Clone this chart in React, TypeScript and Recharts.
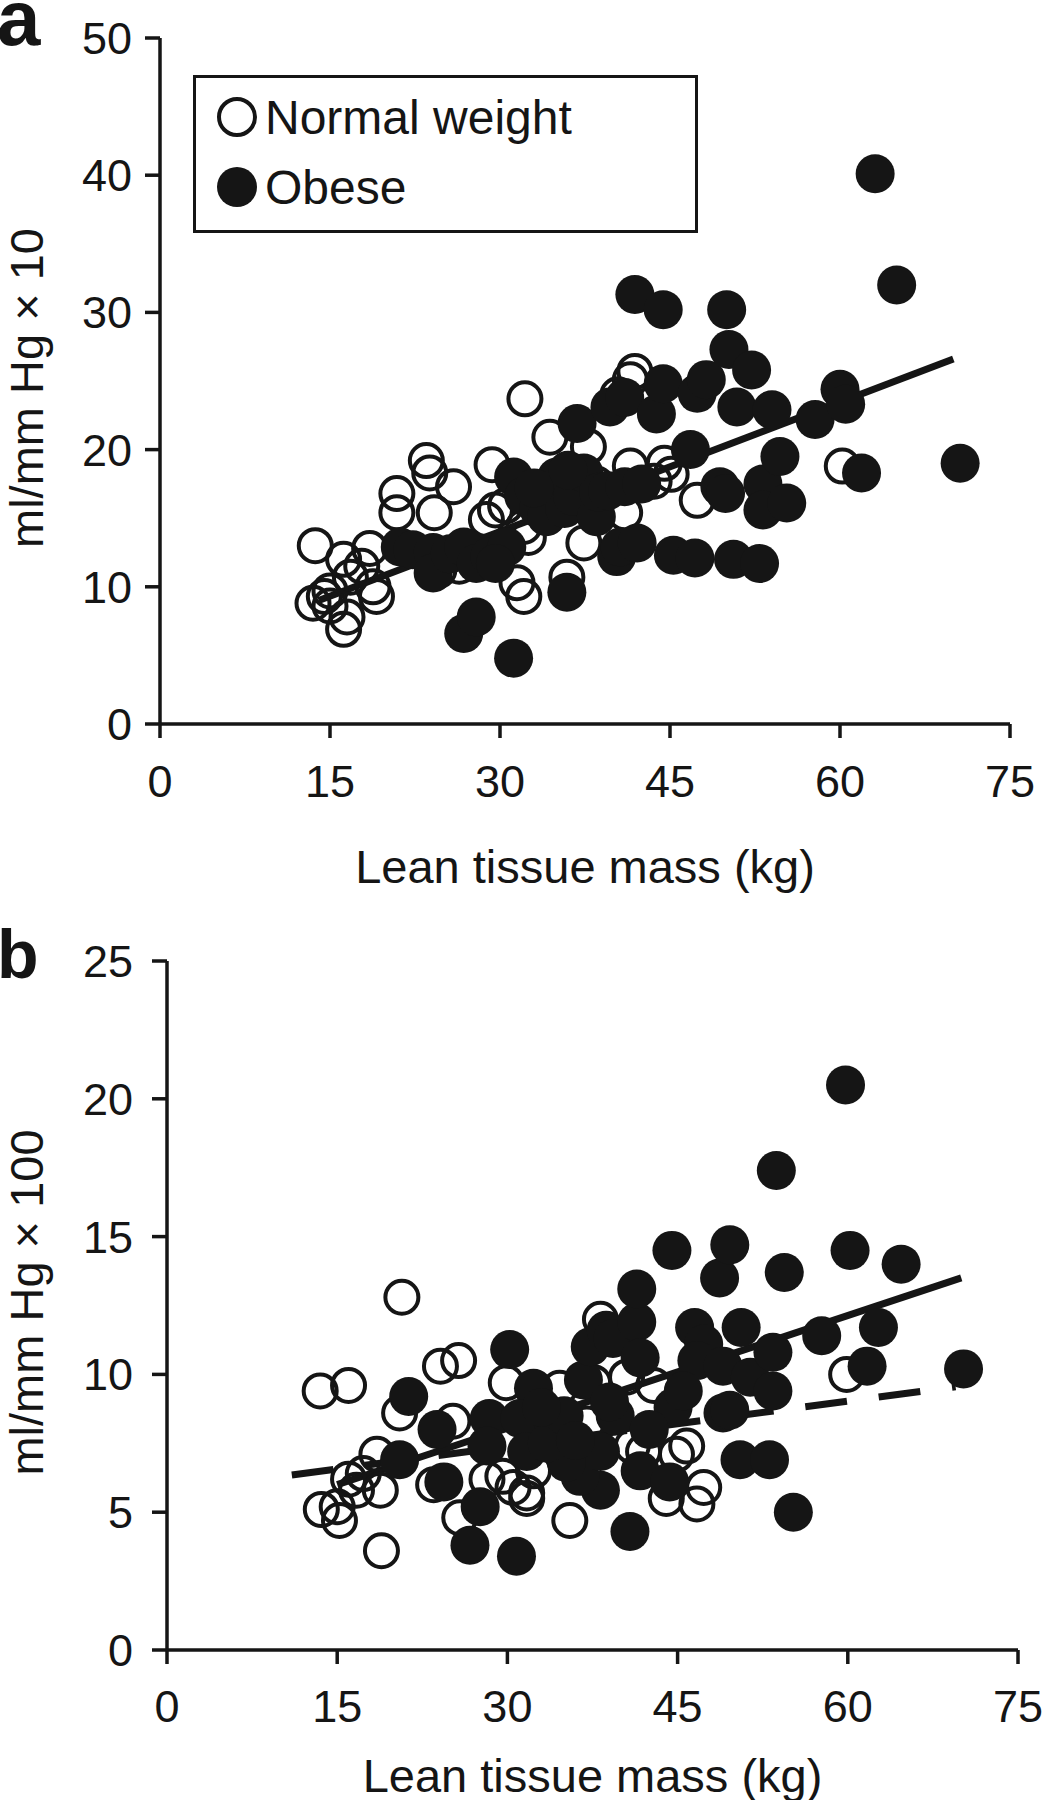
import React from "react";
import {
  ScatterChart,
  Scatter,
  XAxis,
  YAxis,
  ReferenceLine,
  Legend,
  Label,
} from "recharts";

type Pt = [number, number];

const INK = "#151515";
const FONT = "'Liberation Sans', Arial, Helvetica, sans-serif";

const seriesNames = ["Normal weight", "Obese"];
const xTicks = [0, 15, 30, 45, 60, 75];
const yTicksA = [0, 10, 20, 30, 40, 50];
const yTicksB = [0, 5, 10, 15, 20, 25];

// panel a: compliance (ml/mm Hg x 10) vs lean tissue mass
const normalA: Pt[] = [
  [13.7, 13.0], [13.5, 8.8], [14.5, 9.3], [15.0, 8.6], [15.0, 9.7], [16.2, 12.0],
  [16.2, 6.9], [16.5, 7.8], [16.8, 10.7], [17.8, 11.5], [18.5, 12.8], [19.1, 9.3],
  [18.8, 10.0], [20.9, 16.8], [20.9, 15.4], [23.5, 19.2], [23.8, 18.3], [25.9, 17.3],
  [24.2, 15.4], [24.6, 11.2], [26.4, 11.5], [29.3, 18.9], [28.8, 14.9], [29.6, 15.6],
  [30.5, 15.9], [32.2, 23.7], [31.5, 10.3], [32.1, 9.3], [32.1, 14.4], [32.5, 13.6],
  [34.4, 20.9], [35.9, 10.7], [37.4, 13.2], [37.8, 20.2], [38.5, 17.5], [40.4, 24.0],
  [41.5, 25.1], [41.9, 25.7], [41.5, 18.8], [41.0, 15.4], [43.6, 17.7], [45.1, 18.2],
  [44.5, 19.0], [47.4, 16.3], [60.2, 18.8],
];

const obeseA: Pt[] = [
  [21.2, 12.9], [22.3, 12.7], [24.1, 12.5], [24.1, 11.0], [25.6, 12.4], [26.8, 12.9],
  [27.9, 11.7], [29.1, 12.2], [30.6, 12.9], [29.6, 11.7], [26.8, 6.6], [27.9, 7.8],
  [31.2, 4.8], [35.9, 9.6], [31.2, 18.0], [32.1, 16.6], [33.4, 15.7], [34.1, 15.1],
  [35.0, 18.0], [35.7, 15.7], [36.4, 16.6], [37.4, 18.3], [38.5, 15.1], [38.7, 16.9],
  [33.0, 17.2], [36.0, 18.5], [39.5, 17.0], [36.8, 21.9], [39.7, 23.1], [41.0, 23.8],
  [41.0, 17.3], [40.3, 12.2], [40.6, 12.9], [42.1, 13.2], [41.9, 31.3], [44.4, 30.2],
  [43.8, 22.6], [44.4, 24.8], [42.5, 17.5], [45.3, 12.3], [46.8, 20.0], [47.4, 24.1],
  [48.2, 25.1], [47.2, 12.1], [49.4, 17.3], [49.9, 16.8], [50.0, 30.2], [50.2, 27.3],
  [50.9, 23.1], [50.6, 12.0], [52.2, 25.8], [52.9, 11.7], [53.2, 17.5], [53.2, 15.6],
  [54.0, 22.9], [54.7, 19.5], [55.3, 16.1], [57.8, 22.2], [60.0, 24.4], [60.5, 23.3],
  [61.9, 18.3], [63.1, 40.1], [65.0, 32.0], [70.6, 19.0],
];

// panel b: compliance (ml/mm Hg x 100) vs lean tissue mass
const normalB: Pt[] = [
  [13.5, 9.4], [16.0, 9.6], [20.7, 12.8], [24.1, 10.3], [25.7, 10.5], [20.5, 8.6],
  [18.9, 3.6], [13.6, 5.1], [15.2, 4.7], [15.0, 5.2], [16.7, 5.8], [16.0, 6.2],
  [17.3, 6.4], [18.5, 7.1], [18.8, 5.8], [25.2, 8.3], [23.5, 6.0], [25.8, 4.8],
  [29.9, 9.7], [29.6, 6.3], [31.7, 5.7], [32.3, 6.5], [28.2, 6.2], [35.5, 4.7],
  [38.2, 12.0], [40.5, 9.9], [41.0, 7.4], [44.0, 5.5], [46.7, 5.3], [47.3, 5.9],
  [45.8, 7.4], [44.9, 7.1], [42.0, 7.2], [42.9, 9.6], [37.6, 9.7], [37.0, 8.2],
  [34.6, 9.5], [30.5, 5.9], [31.7, 5.5], [59.9, 10.0],
];

const obeseB: Pt[] = [
  [20.5, 6.9], [21.3, 9.2], [23.8, 8.0], [24.4, 6.1], [26.7, 3.8], [27.6, 5.2],
  [30.8, 3.4], [28.4, 8.4], [30.2, 10.9], [32.3, 9.5], [31.1, 8.4], [34.1, 8.0],
  [36.7, 9.8], [37.3, 11.0], [38.7, 11.6], [39.3, 11.3], [41.4, 11.9], [41.4, 13.1],
  [38.2, 5.8], [36.4, 6.3], [41.7, 6.5], [44.3, 6.1], [38.2, 7.2], [35.2, 6.8],
  [31.7, 7.2], [28.2, 7.4], [40.8, 4.3], [44.6, 8.8], [41.7, 10.6], [44.5, 14.5],
  [46.5, 11.7], [47.3, 11.1], [46.7, 10.5], [45.5, 9.4], [48.7, 13.5], [49.6, 14.7],
  [49.0, 10.3], [49.0, 8.6], [49.6, 8.7], [50.6, 11.7], [51.4, 9.9], [53.4, 10.8],
  [53.4, 9.4], [50.5, 6.9], [53.1, 6.9], [55.2, 5.0], [53.7, 17.4], [54.4, 13.7],
  [57.7, 11.4], [59.8, 20.5], [60.2, 14.5], [61.7, 10.3], [62.7, 11.7], [64.7, 14.0],
  [70.2, 10.2], [33.5, 7.5], [35.0, 8.5], [39.5, 8.5], [42.5, 8.0], [33.0, 8.8],
  [36.0, 7.6], [39.0, 9.0],
];

// regression lines (end points)
const fitA: Pt[] = [[14, 9.0], [70, 26.6]];
const fitSolidB: Pt[] = [[15, 6.0], [70, 13.5]];
const fitDashedB: Pt[] = [[11, 6.35], [69.5, 9.55]];

const toRows = (pts: Pt[]) => pts.map(([x, y]) => ({ x, y }));
const toSeg = (pts: Pt[]) => pts.map(([x, y]) => ({ x, y }));

const OpenDot = (props: any) => (
  <circle cx={props.cx} cy={props.cy} r={16.5} fill="none" stroke={INK} strokeWidth={4} />
);
const FilledDot = (props: any) => (
  <circle cx={props.cx} cy={props.cy} r={19.5} fill={INK} />
);

const axisStyle = { stroke: INK, strokeWidth: 3.5 };
const tickStyle = { fill: INK, fontSize: 45, fontFamily: FONT };

const LegendBox = () => (
  <svg width={505} height={158} style={{ display: "block" }}>
    <rect x={1.5} y={1.5} width={502} height={155} fill="#fff" stroke={INK} strokeWidth={3} />
    <circle cx={44} cy={42} r={18} fill="none" stroke={INK} strokeWidth={4} />
    <text x={72} y={42} dominantBaseline="central" fontSize={48} fontFamily={FONT} fill={INK}>
      {seriesNames[0]}
    </text>
    <circle cx={44} cy={112} r={20} fill={INK} />
    <text x={72} y={112} dominantBaseline="central" fontSize={48} fontFamily={FONT} fill={INK}>
      {seriesNames[1]}
    </text>
  </svg>
);

type PanelProps = {
  top: number;
  letter: string;
  letterSize: number;
  letterY: number;
  yTicks: number[];
  yTitle: string;
  yTitleDy: number;
  normal: Pt[];
  obese: Pt[];
  fits: { pts: Pt[]; dashed?: boolean }[];
  margin: { top: number; right: number; left: number; bottom: number };
  yWidth: number;
  yTickMargin: number;
  xHeight: number;
  xTickMargin: number;
  xTitleGap: number;
  showLegend?: boolean;
};

const Panel = (p: PanelProps) => {
  const yMax = p.yTicks[p.yTicks.length - 1];
  return (
    <div style={{ position: "absolute", left: 0, top: p.top, width: 1042, height: 900 }}>
      <ScatterChart width={1042} height={900} margin={p.margin}>
        <XAxis
          type="number"
          dataKey="x"
          domain={[0, 75]}
          ticks={xTicks}
          interval={0}
          height={p.xHeight}
          tick={tickStyle}
          tickSize={14}
          tickMargin={p.xTickMargin}
          axisLine={axisStyle}
          tickLine={axisStyle}
        >
          <Label
            content={(lp: any) => {
              const vb = lp.viewBox || {};
              return (
                <text
                  x={vb.x + vb.width / 2}
                  y={vb.y + p.xTitleGap}
                  textAnchor="middle"
                  dominantBaseline="central"
                  fontSize={47}
                  fontFamily={FONT}
                  fill={INK}
                >
                  Lean tissue mass (kg)
                </text>
              );
            }}
          />
        </XAxis>
        <YAxis
          type="number"
          dataKey="y"
          domain={[0, yMax]}
          ticks={p.yTicks}
          interval={0}
          width={p.yWidth}
          tick={tickStyle}
          tickSize={15}
          tickMargin={p.yTickMargin}
          axisLine={axisStyle}
          tickLine={axisStyle}
        >
          <Label
            content={(lp: any) => {
              const vb = lp.viewBox || {};
              const cy = vb.y + vb.height / 2 + p.yTitleDy;
              return (
                <text
                  x={26}
                  y={cy}
                  transform={`rotate(-90, 26, ${cy})`}
                  textAnchor="middle"
                  dominantBaseline="central"
                  fontSize={47}
                  fontFamily={FONT}
                  fill={INK}
                >
                  {p.yTitle}
                </text>
              );
            }}
          />
        </YAxis>
        <Scatter
          name={seriesNames[0]}
          data={toRows(p.normal)}
          shape={OpenDot}
          isAnimationActive={false}
        />
        <Scatter
          name={seriesNames[1]}
          data={toRows(p.obese)}
          shape={FilledDot}
          isAnimationActive={false}
        />
        {p.fits.map((f, i) => (
          <ReferenceLine
            key={i}
            segment={toSeg(f.pts)}
            stroke={INK}
            strokeWidth={7}
            strokeDasharray={f.dashed ? "42 32" : undefined}
            ifOverflow="visible"
          />
        ))}
        {p.showLegend && (
          <Legend
            layout="vertical"
            align="center"
            verticalAlign="middle"
            wrapperStyle={{ left: 193, top: 75, width: 505, height: 158 }}
            content={LegendBox}
          />
        )}
      </ScatterChart>
      <svg
        width={90}
        height={90}
        style={{ position: "absolute", left: 0, top: 0, overflow: "visible" }}
      >
        <text x={-3} y={p.letterY} fontSize={p.letterSize} fontWeight="bold" fontFamily={FONT} fill={INK}>
          {p.letter}
        </text>
      </svg>
    </div>
  );
};

export default function App() {
  return (
    <div
      style={{
        position: "absolute",
        left: 0,
        top: 0,
        width: 1042,
        height: 1800,
        background: "#fff",
      }}
    >
      <Panel
        top={0}
        letter="a"
        letterSize={78}
        letterY={45}
        yTicks={yTicksA}
        yTitle="ml/mm Hg × 10"
        yTitleDy={7}
        normal={normalA}
        obese={obeseA}
        fits={[{ pts: fitA }]}
        margin={{ top: 38, right: 32, left: 0, bottom: 0 }}
        yWidth={160}
        yTickMargin={13}
        xHeight={176}
        xTickMargin={27}
        xTitleGap={142}
        showLegend
      />
      <Panel
        top={900}
        letter="b"
        letterSize={68}
        letterY={78}
        yTicks={yTicksB}
        yTitle="ml/mm Hg × 100"
        yTitleDy={-3}
        normal={normalB}
        obese={obeseB}
        fits={[{ pts: fitSolidB }, { pts: fitDashedB, dashed: true }]}
        margin={{ top: 61, right: 24, left: 0, bottom: 0 }}
        yWidth={167}
        yTickMargin={19}
        xHeight={150}
        xTickMargin={26}
        xTitleGap={125}
      />
    </div>
  );
}
